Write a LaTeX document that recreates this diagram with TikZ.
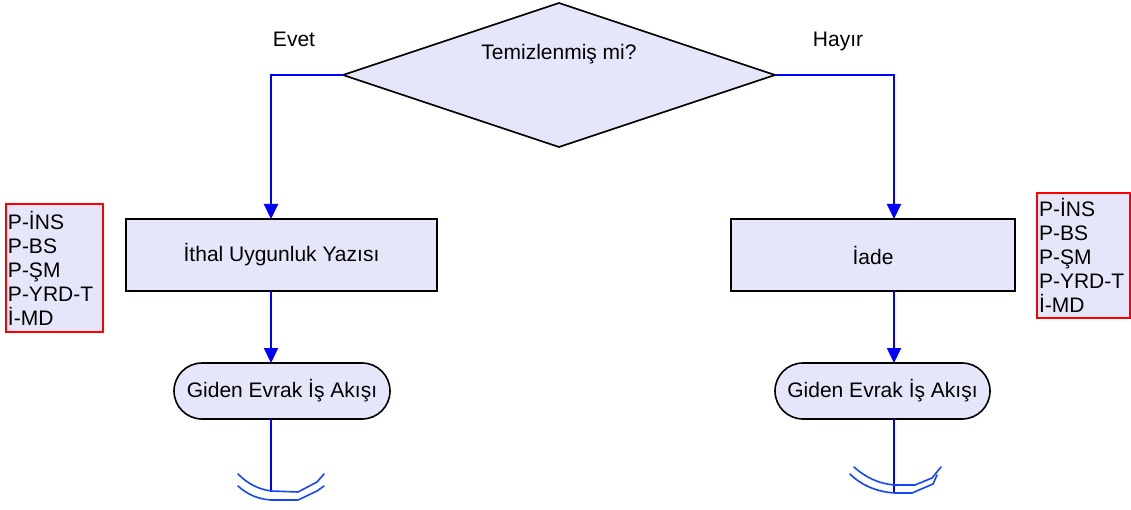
\documentclass[tikz,border=0pt]{standalone}
\usepackage{fontspec}
\setmainfont{Liberation Sans}
\usetikzlibrary{shapes.geometric,arrows.meta}
\definecolor{lav}{RGB}{230,230,250}
\definecolor{conblue}{RGB}{0,0,255}
\definecolor{sqblue}{RGB}{20,70,255}
\begin{document}
\begin{tikzpicture}[x=1pt,y=-1pt,
  every node/.style={font=\fontsize{21}{24}\selectfont, outer sep=0pt},
  shapebox/.style={draw=black, line width=1.6pt, fill=lav, inner sep=0pt},
  decbox/.style={shapebox, diamond, minimum width=432pt, minimum height=144pt},
  procbox/.style={shapebox, rectangle, minimum height=72pt},
  termbox/.style={shapebox, rectangle, rounded corners=28pt, minimum height=56pt},
  rolebox/.style={draw=red, line width=1.3pt, fill=lav, rectangle, align=left, inner xsep=2pt, inner ysep=0pt, anchor=north west},
  conn/.style={draw=conblue, line width=2pt},
  arr/.style={conn, -{Triangle[length=15pt,width=14pt]}},
  squig/.style={draw=sqblue, line width=1.6pt, line cap=round, line join=round},
  lbl/.style={anchor=base}
]
\useasboundingbox (0,0) rectangle (1131,510);

% decision
\node[decbox] (dec) at (559,75) {};
\node[lbl] (dectxt) at (559,60) {Temizlenmiş mi?};
\node[lbl] (evet) at (294,47) {Evet};
\node[lbl] (hayir) at (838,47) {Hayır};

% process boxes
\node[procbox, minimum width=311pt] (lrect) at (281.5,255) {İthal Uygunluk Yazısı};
\node[procbox, minimum width=284pt] (rrect) at (873,255) {İade};

% terminals
\node[termbox, minimum width=216pt] (lterm) at (282,391) {Giden Evrak İş Akışı};
\node[termbox, minimum width=215pt] (rterm) at (882.5,391) {Giden Evrak İş Akışı};

% role lists
\node[rolebox, text width=93pt, minimum height=128pt] (lroles) at (6,204) {P-İNS\\P-BS\\P-ŞM\\P-YRD-T\\İ-MD};
\node[rolebox, text width=89pt, minimum height=125pt] (rroles) at (1037,193) {P-İNS\\P-BS\\P-ŞM\\P-YRD-T\\İ-MD};

% connector x positions
\coordinate (lx) at (271,0);
\coordinate (rx) at (894,0);
\coordinate (lend) at (271,492);
\coordinate (rend) at (894,493);

\draw[arr] (dec.west) -| (lrect.north -| lx);
\draw[arr] (dec.east) -| (rrect.north -| rx);
\draw[arr] (lrect.south -| lx) -- (lterm.north -| lx);
\draw[arr] (rrect.south -| rx) -- (rterm.north -| rx);
\draw[conn] (lterm.south -| lx) -- (lend);
\draw[conn] (rterm.south -| rx) -- (rend);

% squiggles
\draw[squig] (238,474) .. controls (248,484) and (258,489) .. (271,491) -- (298,492) -- (317,482) -- (324,474);
\draw[squig] (238,486) .. controls (248,495) and (258,499) .. (271,500) -- (298,500) -- (317,491) -- (324,486);
\draw[squig] (854,467) .. controls (866,478) and (880,484) .. (895,485) -- (915,485) -- (932,478) -- (941,467);
\draw[squig] (850,474) .. controls (862,486) and (878,492) .. (895,493) -- (912,493) -- (933,484) -- (937,475);
\end{tikzpicture}
\end{document}
